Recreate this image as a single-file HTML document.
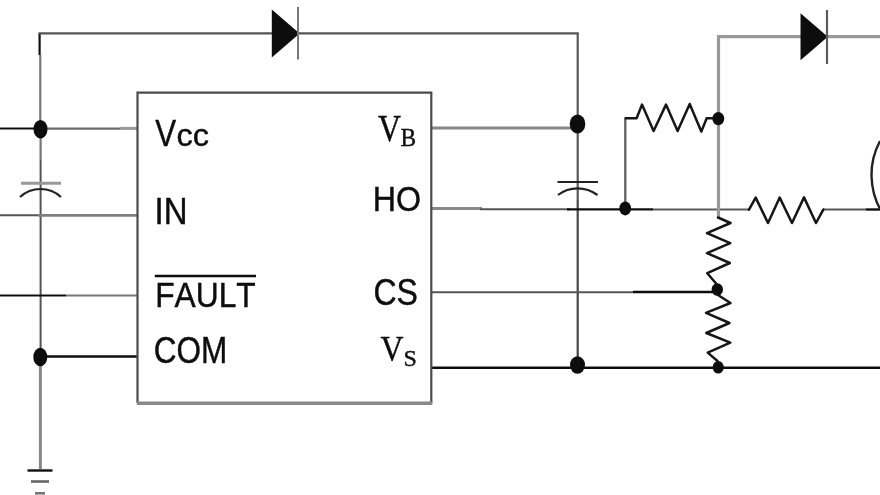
<!DOCTYPE html>
<html lang="en">
<head>
<meta charset="utf-8">
<title>Gate driver typical connection</title>
<style>
html,body{margin:0;padding:0;background:#fff;}
body{width:880px;height:495px;overflow:hidden;}
svg{display:block;}
.sans{font-family:"Liberation Sans",Arial,Helvetica,sans-serif;fill:#0a0a0a;}
.serif{font-family:"Liberation Serif","Times New Roman",serif;fill:#0a0a0a;}
</style>
</head>
<body>
<svg width="880" height="495" viewBox="0 0 880 495">
<defs><filter id="soft" x="-5%" y="-5%" width="110%" height="110%" filterUnits="objectBoundingBox"><feGaussianBlur stdDeviation="0.7"/></filter></defs>
<rect width="880" height="495" fill="#ffffff"/>
<g filter="url(#soft)">

<!-- wires -->
<g fill="none" stroke-linecap="butt">
  <!-- left vertical rail -->
  <path d="M39.6 33 V55" stroke="#111" stroke-width="2.2"/>
  <path d="M40.3 55 V129" stroke="#777" stroke-width="2.2"/>
  <path d="M40.6 129 V160" stroke="#777" stroke-width="2.2"/>
  <path d="M40.6 160 V357" stroke="#555" stroke-width="2"/>
  <path d="M40.4 357 V469" stroke="#888" stroke-width="3"/>
  <!-- top wire -->
  <path d="M38.5 33.4 H578.8" stroke="#555" stroke-width="2.2"/>
  <!-- right vertical rail x=577 -->
  <path d="M577.7 33.4 V200" stroke="#5a5a5a" stroke-width="2.2"/>
  <path d="M577.7 200 V366" stroke="#444" stroke-width="2.2"/>
  <!-- Vcc wire -->
  <path d="M0 128.5 H40" stroke="#111" stroke-width="2.2"/>
  <path d="M40 128.6 H121" stroke="#6a6a6a" stroke-width="2.1"/>
  <path d="M120 128.4 H137" stroke="#999" stroke-width="3"/>
  <!-- IN wire -->
  <path d="M0 215.3 H38" stroke="#555" stroke-width="2"/>
  <path d="M38 215.4 H137" stroke="#808080" stroke-width="2.8"/>
  <!-- FAULT wire -->
  <path d="M0 295.5 H66" stroke="#111" stroke-width="2"/>
  <path d="M66 295.5 H137" stroke="#777" stroke-width="2"/>
  <!-- COM wire -->
  <path d="M40 356.4 H137" stroke="#111" stroke-width="2.5"/>
  <!-- VB wire -->
  <path d="M431 128 H577" stroke="#888" stroke-width="3"/>
  <!-- HO wire -->
  <path d="M431 208.5 H482" stroke="#888" stroke-width="3"/>
  <path d="M480 209.3 H570" stroke="#555" stroke-width="2"/>
  <path d="M567 209.4 H653" stroke="#111" stroke-width="2.3"/>
  <path d="M653 209.5 H749" stroke="#5a5a5a" stroke-width="2.1"/>
  <path d="M823 209.5 H866" stroke="#555" stroke-width="2"/>
  <path d="M866 209.5 H880" stroke="#111" stroke-width="2.4"/>
  <!-- CS wire -->
  <path d="M431 292.2 H633" stroke="#555" stroke-width="2"/>
  <path d="M633 292 H717" stroke="#111" stroke-width="2.5"/>
  <!-- VS wire -->
  <path d="M431 367.7 H880" stroke="#111" stroke-width="2.6"/>
  <!-- gate resistor bypass -->
  <path d="M625.3 208 V119" stroke="#666" stroke-width="2.4"/>
  <!-- right grey rail -->
  <path d="M718.5 217 V36.7 H880" stroke="#999" stroke-width="3.2"/>
</g>

<!-- IC box -->
<g fill="none">
  <path d="M137.5 403 V92.7 H431.3 V403" stroke="#4c4c4c" stroke-width="2.2"/>
  <path d="M136.8 403.2 H432.3" stroke="#888" stroke-width="3.4"/>
</g>

<!-- diodes -->
<g>
  <path d="M271.8 9.5 L299.6 33.6 L271.8 57.5 Z" fill="#111"/>
  <path d="M298 7 V59.5" stroke="#777" stroke-width="2" fill="none"/>
  <path d="M800.5 13.3 L827.8 36.7 L800.5 60.2 Z" fill="#111"/>
  <path d="M827 10 V64" stroke="#5a5a5a" stroke-width="2.2" fill="none"/>
</g>

<!-- capacitors -->
<g fill="none">
  <path d="M21 183.2 H61" stroke="#999" stroke-width="3"/>
  <path d="M20 197 C27 190.5 34 189 40.5 189 C47 189 54 190.5 61 197" stroke="#222" stroke-width="2.2"/>
  <path d="M557.5 182 H598" stroke="#222" stroke-width="2.2"/>
  <path d="M558 195 C565 189.5 571 188.3 577.7 188.3 C584 188.3 590 189.5 597.5 195" stroke="#222" stroke-width="2.2"/>
</g>

<!-- resistors -->
<g fill="none" stroke="#151515" stroke-width="2.5" stroke-linejoin="round" stroke-linecap="round">
  <!-- upper gate resistor -->
  <path d="M625.5 118.2 H636.6 L642 104.6 L653.6 131 L666 104.6 L677.6 131 L689.7 104 L701.3 131.6 L706.7 118.3 H716"/>
  <!-- series resistor -->
  <path d="M749 209.6 L755.7 197.6 L768 223 L779.7 197.6 L792 223 L804 197.4 L816 223 L823.3 209.6"/>
  <!-- vertical resistor 1 -->
  <path d="M718 217.5 L730.5 223 L707 233.2 L730.2 243.2 L707 253.2 L729.8 263 L707.3 273.2 L716.5 284"/>
  <!-- vertical resistor 2 -->
  <path d="M718 295 L730.5 303 L706 312.8 L729.5 323 L706.3 333 L730.3 342.6 L707.7 352.6 L717.5 361"/>
</g>

<!-- IGBT arc -->
<path d="M880 141 Q871 158 871.5 176 Q872 194 880 209" fill="none" stroke="#222" stroke-width="2.4"/>

<!-- junction dots -->
<g fill="#111">
  <ellipse cx="40.5" cy="129.2" rx="7" ry="9.3"/>
  <ellipse cx="40.3" cy="357" rx="7" ry="9.3"/>
  <ellipse cx="577.5" cy="124" rx="7.8" ry="9.4"/>
  <ellipse cx="577.5" cy="365" rx="7.5" ry="8.8"/>
  <ellipse cx="625.2" cy="208.4" rx="5.9" ry="7"/>
  <ellipse cx="718.3" cy="118.6" rx="6" ry="6.6"/>
  <ellipse cx="717.3" cy="289.5" rx="5.7" ry="6.3"/>
  <ellipse cx="718.2" cy="367.3" rx="5.5" ry="6.3"/>
</g>

<!-- ground -->
<g fill="none">
  <path d="M27.5 470.5 H52.5" stroke="#111" stroke-width="2.4"/>
  <path d="M31 481.5 H49" stroke="#666" stroke-width="2.6"/>
  <path d="M35 493.3 H45" stroke="#777" stroke-width="2.6"/>
</g>

<!-- labels -->
<g class="sans" font-size="36" stroke="#0a0a0a" stroke-width="0.4" stroke-linejoin="round">
  <text transform="translate(155.2 146.4) scale(0.87 1.05)">V</text>
  <text transform="translate(176.5 146.4) scale(0.97 0.94)" font-size="33.5">cc</text>
  <text transform="translate(154.6 224) scale(0.915 1.03)">IN</text>
  <text transform="translate(155.2 306.5) scale(0.882 1.0)" style="font-kerning:none">FAULT</text>
  <text transform="translate(153.7 363.2) scale(0.875 1.035)">COM</text>
  <text transform="translate(372.8 210.9) scale(0.895 1.0)">HO</text>
  <text transform="translate(373.4 305.1) scale(0.89 1.01)">CS</text>
</g>
<path d="M154.8 276 H256" stroke="#111" stroke-width="2.4" fill="none"/>
<g class="serif" stroke="#0a0a0a" stroke-width="0.4" stroke-linejoin="round">
  <text transform="translate(378.1 140.6) scale(0.85 1)" font-size="37.5">V</text>
  <text transform="translate(400.5 145.5) scale(0.92 1)" font-size="25.5">B</text>
  <text transform="translate(380.6 361.1) scale(0.89 1)" font-size="35.8">V</text>
  <text transform="translate(403.6 366.4) scale(1.0 0.95)" font-size="24">S</text>
</g>
</g>
</svg>
</body>
</html>
